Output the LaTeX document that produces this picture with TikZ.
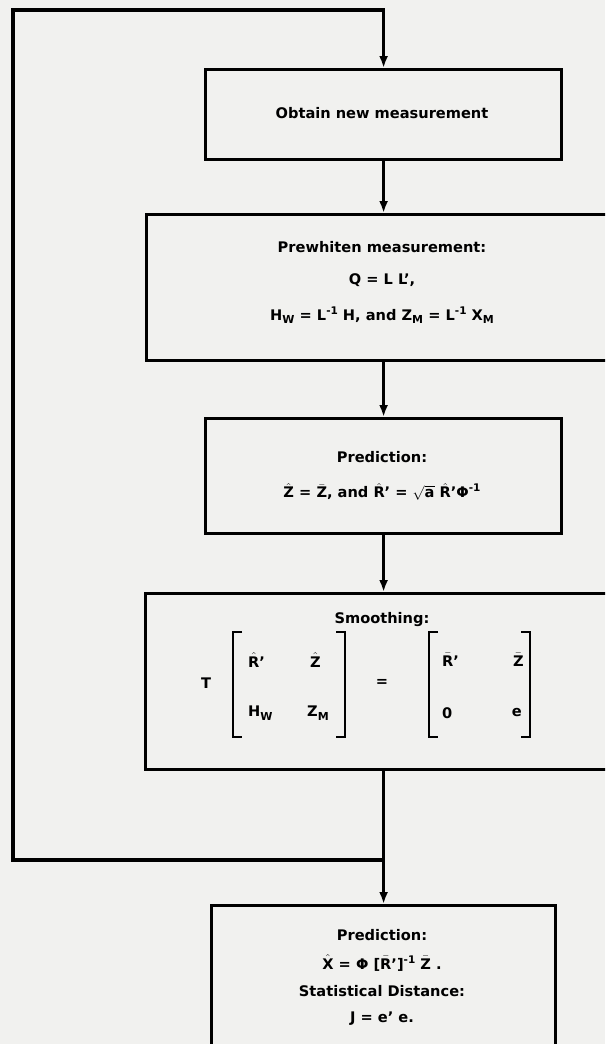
\documentclass[tikz,border=0pt]{standalone}
\usepackage{amsmath}
\usepackage{fontspec}
\setmainfont{DejaVu Sans}
\usetikzlibrary{arrows.meta}

\newcommand\mhat[1]{$\hat{\text{#1}}$}
\newcommand\mbar[1]{$\bar{\text{#1}}$}
\newcommand\sub[1]{\raisebox{-0.45ex}{\fontsize{11}{11}\selectfont #1}}
\newcommand\inv{\raisebox{0.75ex}{\fontsize{10.5}{11}\selectfont -1}}
\newcommand\eqs{\hspace{0.35em}=\hspace{0.35em}}

\begin{document}
\begin{tikzpicture}[x=1pt,y=-1pt,
  box/.style={draw, line width=3.2pt, rectangle, inner sep=0pt, anchor=north west},
  txt/.style={font=\bfseries\fontsize{14.6}{17}\selectfont, inner sep=0pt},
  ln/.style={line width=3.2pt, line join=miter},
  arr/.style={ln, -{Latex[length=12pt,width=9pt]}},
  brk/.style={line width=2.8pt, line join=miter}]

% paper and page frame
\fill[fill={rgb,255:red,241;green,241;blue,239}] (0,0) rectangle (605,1044);
\clip (0,0) rectangle (605,1044);

% boxes
\node[box, minimum width=356pt, minimum height=90pt] (b1) at (204,68) {};
\node[box, minimum width=480pt, minimum height=146pt] (b2) at (145,213) {};
\node[box, minimum width=356pt, minimum height=115pt] (b3) at (204,417) {};
\node[box, minimum width=480pt, minimum height=176pt] (b4) at (144,592) {};
\node[box, minimum width=344pt, minimum height=200pt] (b5) at (210,904) {};

% points on the main flow and the return loop
\coordinate (jn) at (382,860);
\coordinate (lt) at (13,10);

% texts
\node[txt] (t1) at (382,113) {Obtain new measurement};

\node[txt] (t2a) at (382,247) {Prewhiten measurement:};
\node[txt] (t2b) at (382,280) {Q\eqs L L’,};
\node[txt] (t2c) at (382,315) {H\sub{W}\eqs L\inv{} H, and Z\sub{M}\eqs L\inv{} X\sub{M}};

\node[txt] (t3a) at (382,457) {Prediction:};
\node[txt] (t3b) at (382,492) {\mhat{Z}\eqs\mbar{Z}, and \mhat{R}’\eqs$\sqrt{\text{a}}$ \mhat{R}’Φ\inv};

\node[txt] (t4a) at (382,620) {Smoothing:};
\node[txt] (tT) at (206,683) {T};
\node[txt] (teq) at (382,683) {=};
\node[txt, anchor=west] (m11) at (248,660) {\mhat{R}’};
\node[txt, anchor=west] (m12) at (310,660) {\mhat{Z}};
\node[txt, anchor=west] (m21) at (248,713) {H\sub{W}};
\node[txt, anchor=west] (m22) at (307,713) {Z\sub{M}};
\node[txt, anchor=west] (n11) at (442,660) {\mbar{R}’};
\node[txt, anchor=east] (n12) at (524,660) {\mbar{Z}};
\node[txt, anchor=west] (n21) at (442,713) {0};
\node[txt, anchor=east] (n22) at (522,713) {e};

% matrix brackets
\draw[brk] (242,632) -- (233,632) -- (233,737) -- (242,737);
\draw[brk] (336,632) -- (345,632) -- (345,737) -- (336,737);
\draw[brk] (438,632) -- (429,632) -- (429,737) -- (438,737);
\draw[brk] (521,632) -- (530,632) -- (530,737) -- (521,737);

\node[txt] (t5a) at (382,935) {Prediction:};
\node[txt] (t5b) at (382,963) {\mhat{X}\eqs Φ [\mbar{R}’]\inv{} \mbar{Z} .};
\node[txt] (t5c) at (382,991) {Statistical Distance:};
\node[txt] (t5d) at (382,1019) {J\eqs e’ e.};

% connectors
\draw[arr] (b1.south) -- (b1.south |- b2.north);
\draw[arr] (b1.south |- b2.south) -- (b3.north);
\draw[arr] (b3.south) -- (b3.south |- b4.north);
\draw[arr] (b3.south |- b4.south) -- (b5.north);
\draw[arr] (jn) -- (jn -| lt) -- (lt) -- (lt -| b1.north) -- (b1.north);
\end{tikzpicture}
\end{document}
